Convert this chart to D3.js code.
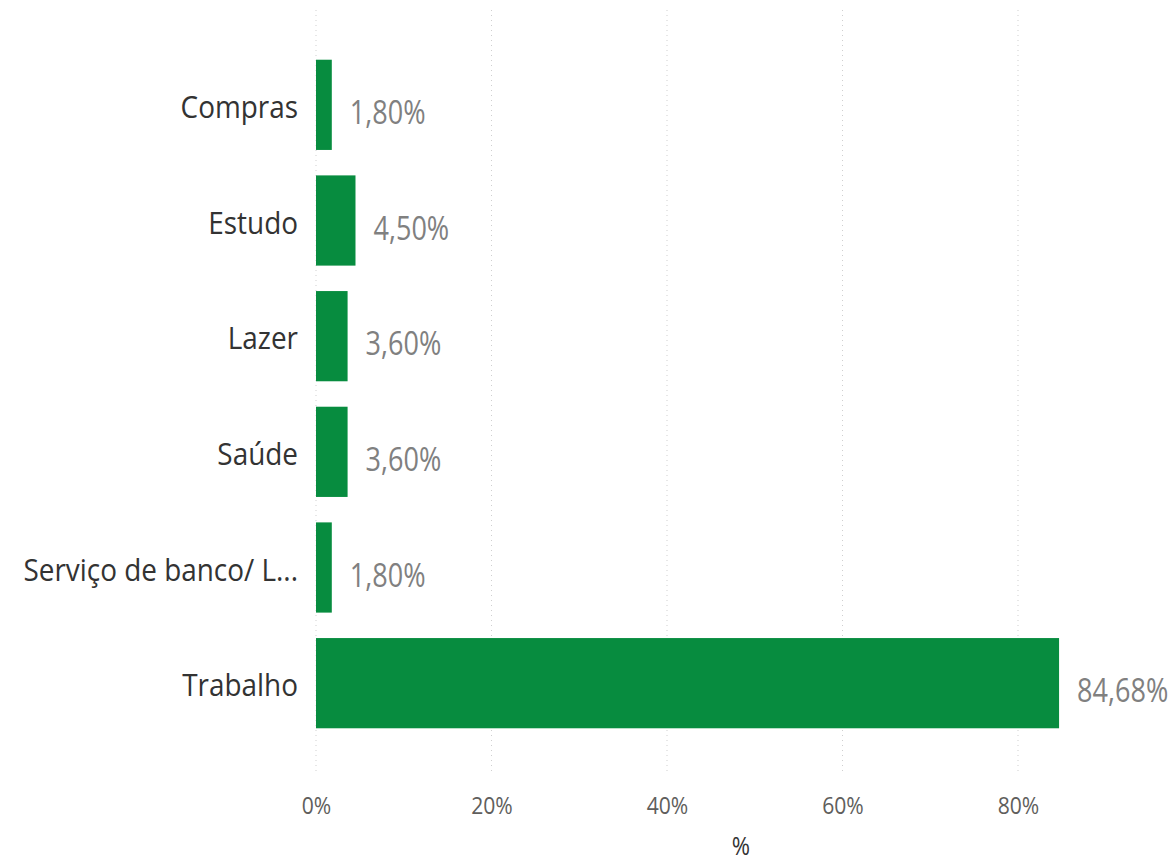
<!DOCTYPE html>
<html>
<head>
<meta charset="utf-8">
<script src="https://cdn.jsdelivr.net/npm/d3@7"></script>
<style>
  body { margin: 0; background: #fff; }
  text { font-family: "Open Sans", "Noto Sans", sans-serif; }
</style>
</head>
<body>
<div id="chart"></div>
<script>
// chart data
const categories = ["Compras", "Estudo", "Lazer", "Saúde", "Serviço de banco/ L...", "Trabalho"];
const values = [1.80, 4.50, 3.60, 3.60, 1.80, 84.68];
const ticks = [0, 20, 40, 60, 80];

const width = 1173;
const height = 868;

const svg = d3.select("#chart")
    .append("svg")
    .attr("width", width)
    .attr("height", height);

const x = d3.scaleLinear()
    .domain([0, 80])
    .range([316, 1018]);

const y = d3.scaleBand()
    .domain(categories)
    .range([47, 741])
    .paddingInner(0.22)
    .paddingOuter(0.11);

// dotted gridlines
svg.append("g")
    .selectAll("line")
    .data(ticks)
    .enter().append("line")
    .attr("x1", d => x(d))
    .attr("x2", d => x(d))
    .attr("y1", 10)
    .attr("y2", 774)
    .attr("stroke", "#cfcfcf")
    .attr("stroke-width", 1)
    .attr("stroke-dasharray", "1,4");

// x axis tick labels (text is narrow, so squeeze it a bit)
const xAxis = d3.axisBottom(x)
    .tickValues(ticks)
    .tickFormat(d => d + "%")
    .tickSize(0);

const gx = svg.append("g")
    .attr("transform", "translate(0,788)")
    .call(xAxis);
gx.select(".domain").remove();
gx.selectAll("text")
    .attr("y", 0)
    .attr("dy", null)
    .attr("transform", "translate(0,26) scale(0.88,1)")
    .attr("fill", "#605e5c")
    .attr("font-size", 24)
    .style("font-family", "'Open Sans', sans-serif");

svg.append("text")
    .attr("transform", "translate(741,855) scale(0.85,1)")
    .attr("text-anchor", "middle")
    .attr("fill", "#333")
    .attr("font-size", 26)
    .text("%");

// y axis category labels
const yAxis = d3.axisLeft(y).tickSize(0);
const gy = svg.append("g")
    .attr("transform", "translate(316,0)")
    .call(yAxis);
gy.select(".domain").remove();
gy.selectAll("text")
    .attr("x", 0)
    .attr("dy", null)
    .attr("transform", "translate(-18,13) scale(0.9,1)")
    .attr("fill", "#333")
    .attr("font-size", 31)
    .style("font-family", "'Open Sans', sans-serif");

// bars
svg.append("g")
    .selectAll("rect")
    .data(categories)
    .enter().append("rect")
    .attr("x", x(0))
    .attr("y", d => y(d))
    .attr("width", (d, i) => x(values[i]) - x(0))
    .attr("height", y.bandwidth())
    .attr("fill", "#078c3f");

// data labels
svg.append("g")
    .selectAll("text")
    .data(categories)
    .enter().append("text")
    .attr("transform", (d, i) =>
        `translate(${x(values[i]) + 18},${y(d) + y.bandwidth() / 2 + 19}) scale(0.82,1)`)
    .attr("fill", "#808080")
    .attr("font-size", 33)
    .text((d, i) => values[i].toFixed(2).replace(".", ",") + "%");
</script>
</body>
</html>
